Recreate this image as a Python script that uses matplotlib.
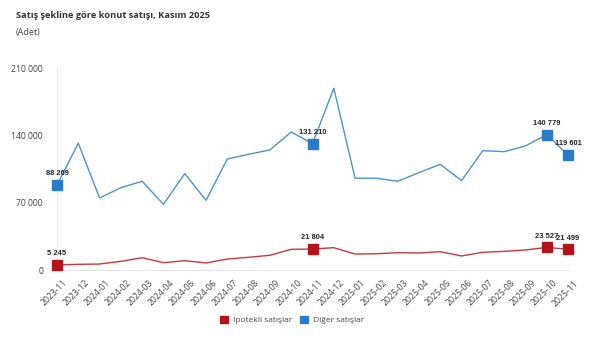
import matplotlib
matplotlib.use("Agg")
import matplotlib.pyplot as plt
from matplotlib.patches import Patch
from matplotlib.transforms import ScaledTranslation

months = ["2023-11", "2023-12", "2024-01", "2024-02", "2024-03", "2024-04", "2024-05",
          "2024-06", "2024-07", "2024-08", "2024-09", "2024-10", "2024-11", "2024-12",
          "2025-01", "2025-02", "2025-03", "2025-04", "2025-05", "2025-06", "2025-07",
          "2025-08", "2025-09", "2025-10", "2025-11"]
ipotekli = [5245, 5900, 6200, 9000, 12800, 7600, 9700, 7300, 11400, 13200, 15300, 21500,
            21804, 23200, 16600, 16900, 18000, 17700, 19000, 14600, 18400, 19400, 20800,
            23527, 21499]
diger = [88269, 131800, 74900, 85600, 92200, 68300, 100200, 72500, 115400, 120300, 124800,
         143500, 131210, 189000, 95400, 95400, 92200, 101200, 109900, 92900, 124100, 123000,
         129000, 140779, 119601]
highlight_idx = [0, 12, 23, 24]
yticks = [0, 70000, 140000, 210000]
ytick_labels = ["0", "70 000", "140 000", "210 000"]

red_line = "#c4393f"
red_mark = "#b3141c"
blue_line = "#4b93d1"
blue_mark = "#2a7cc6"

plt.rcParams['font.family'] = ['Open Sans', 'DejaVu Sans']

fig = plt.figure(figsize=(6, 3.49), dpi=100)
ax = fig.add_axes([57/600, 1-270/349, (568-57)/600, (270-68)/349])

x = list(range(len(months)))
ax.plot(x, diger, color=blue_line, lw=1.0, zorder=2)
ax.plot(x, ipotekli, color=red_line, lw=1.0, zorder=2)

def fmt(v):
    return f"{v:,}".replace(",", " ")

for i in highlight_idx:
    ax.plot(i, diger[i], marker="s", ms=7.5, color=blue_mark, zorder=3, clip_on=False)
    ax.plot(i, ipotekli[i], marker="s", ms=7.5, color=red_mark, zorder=3, clip_on=False)

for i in highlight_idx:
    ax.annotate(fmt(diger[i]), (i, diger[i]), xytext=(0, 5.5), textcoords="offset points",
                ha="center", va="bottom", fontsize=5.4, fontweight="bold", color="#222222",
                family=['Liberation Sans', 'DejaVu Sans'], annotation_clip=False)
    ax.annotate(fmt(ipotekli[i]), (i, ipotekli[i]), xytext=(0, 5.5), textcoords="offset points",
                ha="center", va="bottom", fontsize=5.4, fontweight="bold", color="#222222",
                family=['Liberation Sans', 'DejaVu Sans'], annotation_clip=False)

ax.set_xlim(0, 24)
ax.set_ylim(0, 210000)
ax.set_yticks(yticks)
ax.set_yticklabels(ytick_labels, fontsize=6.2, color="#444444")
ax.set_xticks(x)
ax.set_xticklabels(months, rotation=45, ha="right", rotation_mode="anchor", fontsize=6.2, color="#444444")
ax.tick_params(axis="both", length=0)
ax.tick_params(axis="y", pad=10)
ax.tick_params(axis="x", pad=4)
shift = ScaledTranslation(6/100, -3/100, fig.dpi_scale_trans)
for lab in ax.get_xticklabels():
    lab.set_transform(lab.get_transform() + shift)
for s in ["top", "right"]:
    ax.spines[s].set_visible(False)
ax.spines["left"].set_color("#ececec")
ax.spines["bottom"].set_color("#e6e6e6")
ax.spines["left"].set_linewidth(0.8)
ax.spines["bottom"].set_linewidth(0.8)
ax.patch.set_alpha(0)

fig.text(16/600, 1-15/349, "Satış şekline göre konut satışı, Kasım 2025", fontsize=6.7,
         fontweight="bold", color="#333333", va="center", ha="left")
fig.text(16/600, 1-33/349, "(Adet)", fontsize=6.5, color="#444444", va="center", ha="left")

handles = [Patch(facecolor=red_mark, edgecolor=red_mark), Patch(facecolor=blue_mark, edgecolor=blue_mark)]
fig.legend(handles, ["İpotekli satışlar", "Diğer satışlar"], loc="center", bbox_to_anchor=(292/600, 1-320/349),
           ncol=2, frameon=False, fontsize=6.0, handlelength=1.0, handleheight=1.0,
           columnspacing=1.0, handletextpad=0.5, labelcolor="#444444")

fig.savefig("out.png", dpi=100)
